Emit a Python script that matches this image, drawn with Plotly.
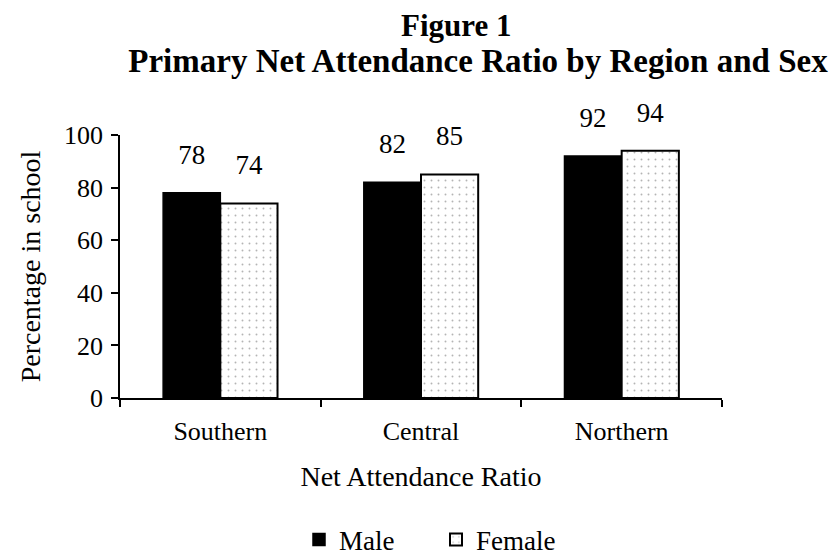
import plotly.graph_objects as go

regions = ["Southern", "Central", "Northern"]
male = [78, 82, 92]
female = [74, 85, 94]
y_ticks = [0, 20, 40, 60, 80, 100]
title_line1 = "Figure 1"
title_line2 = "Primary Net Attendance Ratio by Region and Sex"

serif = "Liberation Serif, Times New Roman, serif"

fig = go.Figure()
fig.add_trace(go.Bar(
    name="Male", x=regions, y=male, offsetgroup="m",
    marker=dict(color="black", line=dict(color="black", width=1.5)),
))
fig.add_trace(go.Bar(
    name="Female", x=regions, y=female, offsetgroup="f",
    marker=dict(color="white", line=dict(color="black", width=2),
                pattern=dict(shape=".", fgcolor="#6a6a6a", bgcolor="white",
                             size=7, solidity=0.06)),
))
# value labels above the bars (invisible large marker pushes text upward)
for name, vals, grp in (("Male", male, "m"), ("Female", female, "f")):
    fig.add_trace(go.Scatter(
        x=regions, y=vals, offsetgroup=grp, mode="markers+text",
        text=[str(v) for v in vals], textposition="top center",
        textfont=dict(family=serif, size=27, color="black"),
        marker=dict(size=34, opacity=0, color="white"),
        showlegend=False, hoverinfo="skip", cliponaxis=False,
    ))

fig.update_layout(
    width=831, height=552,
    paper_bgcolor="white", plot_bgcolor="white",
    margin=dict(l=112, r=117, t=127, b=162),
    barmode="group", bargap=0.43, bargroupgap=0,
    scattermode="group", scattergap=0.43,
    font=dict(family=serif, size=26, color="black"),
    title=dict(
        text="<b>" + title_line2 + "</b>",
        x=470 / 831, xanchor="center", xref="container",
        y=1 - 52.5 / 552, yanchor="middle", yref="container",
        font=dict(family=serif, size=33, color="black"),
    ),
    annotations=[dict(
        text="<b>" + title_line1 + "</b>", showarrow=False,
        xref="paper", yref="paper", borderpad=0,
        x=(448 - 112) / 602, y=(390 - 17.5) / 263,
        xanchor="center", yanchor="middle",
        font=dict(family=serif, size=31, color="black"),
    )],
    xaxis=dict(
        showline=True, linecolor="black", linewidth=1.5,
        ticks="outside", ticklen=7, tickcolor="black", tickwidth=1.5,
        tickson="boundaries", showgrid=False, automargin=False,
        ticklabelstandoff=9,
        tickfont=dict(family=serif, size=26),
        title=dict(text="Net Attendance Ratio", font=dict(family=serif, size=28), standoff=21),
    ),
    yaxis=dict(
        range=[0, 100], tickvals=y_ticks,
        showline=True, linecolor="black", linewidth=1.5,
        ticks="outside", ticklen=7, tickcolor="black", tickwidth=1.5,
        showgrid=False, zeroline=False, automargin=False,
        ticklabelstandoff=3,
        tickfont=dict(family=serif, size=26),
        title=dict(text="Percentage in school", font=dict(family=serif, size=28), standoff=15),
    ),
    legend=dict(
        orientation="h", x=428 / 831, xanchor="center", xref="container",
        y=1 - 532 / 552, yanchor="middle", yref="container",
        font=dict(family=serif, size=27),
        itemwidth=30, entrywidth=92, entrywidthmode="pixels",
    ),
)

fig.write_html("out.html")
